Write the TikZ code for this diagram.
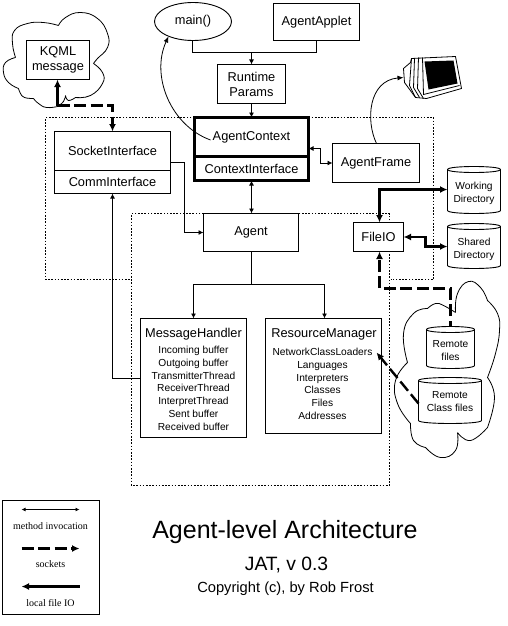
\documentclass[tikz,border=0pt]{standalone}
\usepackage{fontspec}
\setmainfont{Liberation Sans}
\newfontfamily\legendfont{Liberation Serif}
\usetikzlibrary{arrows.meta,shapes.geometric,calc}
\newcommand{\fsa}{\fontsize{12.8}{15}\selectfont}
\newcommand{\fsb}{\fontsize{10.2}{12.85}\selectfont}
\newcommand{\drumoutline}[1]{%
  \draw[line width=.9pt,fill=white] ($(#1.north west)+(0,-3)$) -- ($(#1.south west)+(0,-3)$)
    .. controls ($(#1.south west)+(0,1)$) and ($(#1.south east)+(0,1)$) .. ($(#1.south east)+(0,-3)$)
    -- ($(#1.north east)+(0,-3)$)
    .. controls ($(#1.north east)+(0,-7)$) and ($(#1.north west)+(0,-7)$) .. ($(#1.north west)+(0,-3)$);
  \draw[line width=.9pt] ($(#1.north west)+(0,-3)$)
    .. controls ($(#1.north west)+(0,1)$) and ($(#1.north east)+(0,1)$) .. ($(#1.north east)+(0,-3)$);
}
\tikzset{
  x=1pt,y=-1pt,
  px/.style={inner sep=0pt,outer sep=0pt},
  box/.style={draw,line width=.9pt,px,align=center,font=\fsa},
  boldbox/.style={draw,line width=2.6pt,px,align=center,font=\fsa},
  drum/.style={px,align=center,font=\fsb},
  invoke/.style={line width=.9pt,-{Latex[length=5pt,width=5pt]}},
  invokeboth/.style={line width=.9pt,{Latex[length=5pt,width=5pt]}-{Latex[length=5pt,width=5pt]}},
  thin curve/.style={line width=.8pt,-{Latex[length=6pt,width=5pt]}},
  fileio/.style={line width=2.4pt,-{Latex[length=7.5pt,width=7pt]}},
  fileioboth/.style={line width=2.4pt,{Latex[length=7.5pt,width=7pt]}-{Latex[length=7.5pt,width=7pt]}},
  sock/.style={line width=2.4pt,dash pattern=on 12pt off 4.5pt,-{Latex[length=7.5pt,width=7pt]}},
  region/.style={line width=.9pt,dash pattern=on 1.6pt off 1.6pt},
  cloud line/.style={line width=.8pt},
  legendtext/.style={px,font=\legendfont\fontsize{10}{12}\selectfont,anchor=center},
}
\begin{document}
\begin{tikzpicture}
\useasboundingbox (0,0) rectangle (507,626);
\begin{scope}[shift={(.5,.5)}]

% regions
\draw[region] (194,117) -- (45,117) -- (45,279) -- (131,279);
\draw[region] (308,117) -- (433,117) -- (433,279) -- (390,279);
\draw[region] (203,213) -- (131,213) -- (131,485) -- (389,485) -- (389,213) -- (298,213);

% clouds
\draw[cloud line]
 plot[smooth,tension=.8] coordinates {(57,106) (46,107) (38,103) (33,98)}
 plot[smooth,tension=.8] coordinates {(33,98) (24,97) (20,93) (18,88)}
 plot[smooth,tension=.8] coordinates {(18,88) (8,82) (3,72) (5,62) (15,57)}
 plot[smooth,tension=.8] coordinates {(15,57) (12,43) (14,30) (27,23) (43,22) (58,25)}
 plot[smooth,tension=.8] coordinates {(58,25) (65,17) (80,12) (97,18) (107,33) (107,47) (97,58) (93,63)}
 plot[smooth,tension=.8] coordinates {(93,63) (102,72) (102,83) (90,95) (75,97)}
 plot[smooth,tension=.8] coordinates {(75,97) (68,100) (65,95)}
 plot[smooth,tension=.8] coordinates {(65,95) (63,101) (57,106)};
\draw[cloud line]
 plot[smooth,tension=.8] coordinates {(455,312) (457,293) (468,281) (480,287) (487,300)}
 plot[smooth,tension=.8] coordinates {(487,300) (497,313) (499,330) (495,353) (487,377)}
 plot[smooth,tension=.8] coordinates {(487,377) (494,397) (487,427)}
 plot[smooth,tension=.8] coordinates {(487,427) (470,440) (457,432)}
 plot[smooth,tension=.8] coordinates {(457,432) (455,450) (440,457) (425,447)}
 plot[smooth,tension=.8] coordinates {(425,447) (413,440) (410,423)}
 plot[smooth,tension=.8] coordinates {(410,423) (397,403) (395,380) (407,362)}
 plot[smooth,tension=.8] coordinates {(407,362) (403,333) (413,313) (427,308)}
 plot[smooth,tension=.8] coordinates {(427,308) (435,303) (443,305) (455,312)};

% monitor
\draw[line width=.8pt,fill=white] (411,58) -- (455,56) -- (461,88) -- (426,98) -- (415,97) -- (404,82) -- (403,68) -- (410,62) -- cycle;
\draw[line width=.8pt] (411,58) -- (409,85) -- (415,97);
\draw[line width=.8pt] (414,58) -- (413,87) -- (419,97);
\draw[line width=.8pt] (418,57) -- (417,88) -- (423,98);
\draw[line width=.8pt] (422,57) -- (423,94) -- (459,85);
\fill (424,61) -- (453,60) -- (457,83) -- (428,89) -- cycle;

% nodes
\node[draw,ellipse,line width=.9pt,px,minimum width=77pt,minimum height=38pt,font=\fsa] (main) at (192.5,21) {main()};
\node[box,minimum width=86pt,minimum height=37pt] (applet) at (316,21.5) {AgentApplet};
\node[box,minimum width=68pt,minimum height=39pt] (params) at (251,83.5) {Runtime\\Params};
\node[box,minimum width=63pt,minimum height=39pt,fill=white] (kqml) at (57.5,59.5) {KQML\\message};
\node[boldbox,minimum width=114pt,minimum height=39pt] (context) at (251,136.5) {AgentContext};
\node[boldbox,minimum width=114pt,minimum height=24pt] (ctxif) at (251,168) {ContextInterface};
\node[box,minimum width=116pt,minimum height=39pt] (socket) at (112,150.5) {SocketInterface};
\node[box,minimum width=116pt,minimum height=23pt] (comm) at (112,181.5) {CommInterface};
\node[box,minimum width=87pt,minimum height=39pt,fill=white] (frame) at (375.5,162.5) {AgentFrame};
\node[box,minimum width=95pt,minimum height=38pt,fill=white] (agent) at (250.5,232) {Agent};
\node[box,minimum width=50pt,minimum height=29pt,fill=white] (fileio) at (378,236.5) {FileIO};
\node[box,minimum width=106pt,minimum height=119pt,fill=white] (handler) at (193,377.5) {};
\node[box,minimum width=116pt,minimum height=115pt,fill=white] (resource) at (323,375.5) {};
\node[px,font=\fsa,anchor=base] (handlertitle) at (193,336.5) {MessageHandler};
\node[px,font=\fsa,anchor=base] (resourcetitle) at (323.5,336.5) {ResourceManager};
\node[px,font=\fsb,align=center,anchor=north] (handlerlist) at (193,345.5) {Incoming buffer\\Outgoing buffer\\TransmitterThread\\ReceiverThread\\InterpretThread\\Sent buffer\\Received buffer};
\node[px,font=\fsb,align=center,anchor=north] (resourcelist) at (322,347.5) {NetworkClassLoaders\\Languages\\Interpreters\\Classes\\Files\\Addresses};

% junction and free-end coordinates
\coordinate (mainfoot) at (192,41);
\coordinate (mergeA) at (251,52);
\coordinate (forkA) at (251,284);
\coordinate (kqmlfoot) at (57,105);
\coordinate (sockTop) at (112,105);
\coordinate (ioCorner) at (379,189);
\coordinate (monitor) at (403,77);
\coordinate (remoteBend) at (450,288);
\coordinate (ntw) at (376,352);
\coordinate (handlerOut) at (140,378);
\coordinate (commUp) at (112,378);
\coordinate (sharedBend) at (425,246);

% drum nodes
\node[drum,minimum width=53pt,minimum height=41pt] (working) at (473.5,192.5) {Working\\Directory};
\node[drum,minimum width=53pt,minimum height=39pt] (shared) at (473.5,248.5) {Shared\\Directory};
\node[drum,minimum width=48pt,minimum height=36pt] (remote) at (450,350) {};
\node[drum,minimum width=63pt,minimum height=40pt] (classes) at (449.5,403) {};

% method invocations
\draw[line width=.9pt] (mainfoot) |- (mergeA);
\draw[line width=.9pt] (applet.south) |- (mergeA);
\draw[invoke] (mergeA) -- (params.north);
\draw[invoke] (params.south) -- (context.north);
\draw[invokeboth] (ctxif.south) -- (ctxif.south |- agent.north);
\draw[line width=.9pt] (forkA |- agent.south) -- (forkA);
\draw[invoke] (forkA) -| (handler.north);
\draw[invoke] (forkA) -| ($(resource.north)+(1,0)$);
\draw[invoke] ($(socket.south east)+(0,-8)$) -- ++(14,0) |- (agent.west);
\draw[invoke] (handlerOut) -- (commUp) -- (comm.south);
\draw[invokeboth] ($(context.east)+(0,11.5)$) -- ++(12,0) |- (frame.west);

% free-hand calls
\draw[thin curve] ($(context.west)+(16,3)$) .. controls (170,125) and (150,75) .. (168,36);
\draw[thin curve] ($(frame.north)+(.5,0)$) .. controls (365,120) and (368,80) .. (monitor);

% local file IO
\draw[fileio] (kqmlfoot) -- (kqml.south -| kqmlfoot);
\draw[fileioboth] (fileio.north -| ioCorner) -- (ioCorner) -- (ioCorner -| working.west);
\draw[fileioboth] (fileio.east) -- (sharedBend |- fileio.east) -- (sharedBend) -- (sharedBend -| shared.west);

% sockets
\draw[sock] (kqmlfoot) -- (sockTop) -- (socket.north);
\draw[sock] (remoteBend |- remote.north) -- (remoteBend) -- (remoteBend -| ioCorner) -- (fileio.south -| ioCorner);

% drums
\drumoutline{working}
\drumoutline{shared}
\drumoutline{remote}
\drumoutline{classes}
\node[drum] (workinglabel) at (working.center) {Working\\Directory};
\node[drum] (sharedlabel) at (shared.center) {Shared\\Directory};
\node[drum] (remotelabel) at (remote.center) {Remote\\files};
\node[drum] (classeslabel) at ($(classes.center)+(0,-2)$) {Remote\\Class files};
\draw[sock] (classes.west) -- (ntw);

% caption
\node[px,anchor=base,font=\fontsize{25}{30}\selectfont] (title) at (284.5,538) {Agent-level Architecture};
\node[px,anchor=base,font=\fontsize{19.3}{22}\selectfont] (version) at (286,570) {JAT, v 0.3};
\node[px,anchor=base,font=\fontsize{14.7}{18}\selectfont] (copy) at (285,592) {Copyright (c), by Rob Frost};

% legend
\node[draw,line width=.9pt,px,minimum width=97pt,minimum height=114pt] (legend) at (50.5,557) {};
\coordinate (la) at (21,509); \coordinate (lb) at (79,509);
\coordinate (lc) at (21,548); \coordinate (ld) at (79,548);
\coordinate (le) at (79,586); \coordinate (lf) at (21,586);
\draw[invokeboth,{Latex[length=4pt,width=4pt]}-{Latex[length=4pt,width=4pt]}] (la) -- (lb);
\draw[sock] (lc) -- (ld);
\draw[fileio] (le) -- (lf);
\node[legendtext] (l1) at (50,526) {method invocation};
\node[legendtext] (l2) at (50,564) {sockets};
\node[legendtext] (l3) at (50,603) {local file IO};
\end{scope}
\end{tikzpicture}
\end{document}
